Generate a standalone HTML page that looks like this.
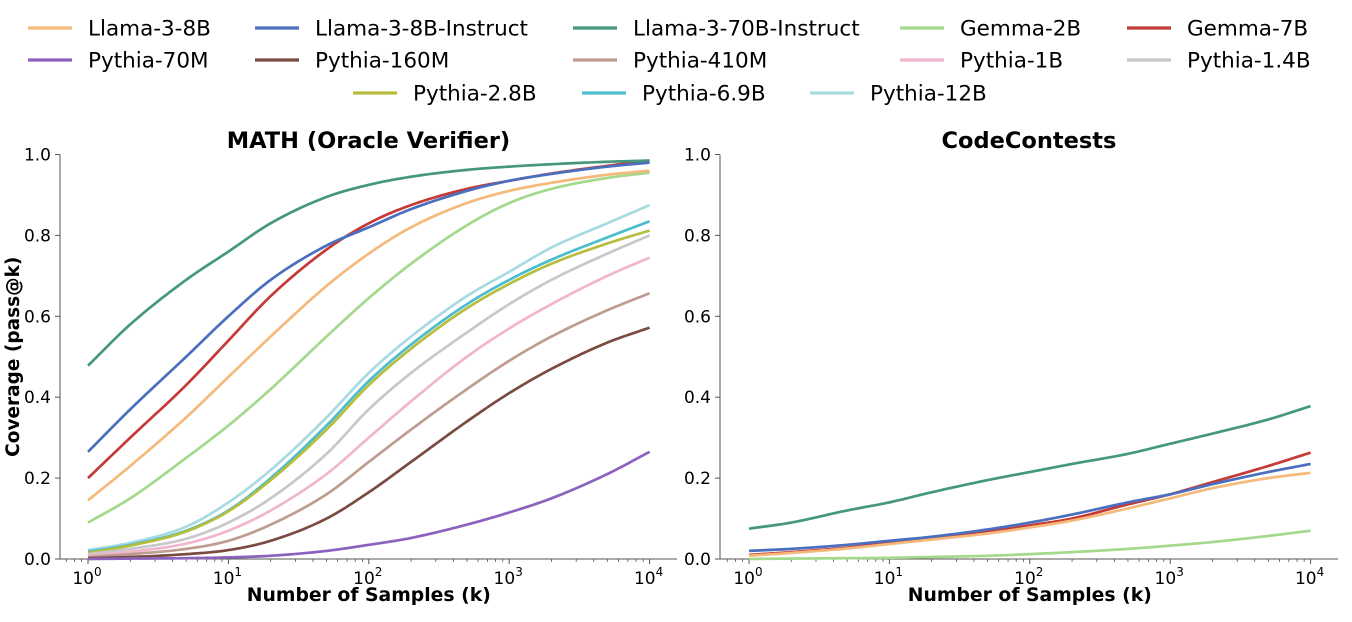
<!DOCTYPE html>
<html><head><meta charset="utf-8">
<style>
body{margin:0;background:#fff;}
svg{display:block;font-family:"DejaVu Sans","Liberation Sans",sans-serif;}
</style></head>
<body>
<svg id="chart" width="1352" height="622" viewBox="0 0 1352 622"></svg>
<script>
const ks=[1,2,5,10,20,50,100,200,500,1000,2000,5000,10000];
const seriesNames=["Llama-3-8B","Llama-3-8B-Instruct","Llama-3-70B-Instruct","Gemma-2B","Gemma-7B","Pythia-70M","Pythia-160M","Pythia-410M","Pythia-1B","Pythia-1.4B","Pythia-2.8B","Pythia-6.9B","Pythia-12B"];
const seriesColors=["#f5b97b","#4a6fbf","#45987a","#a3d98c","#c43a36","#8c62bf","#7a4b42","#bf9c90","#f1b5cf","#c8c8c8","#b8bd3e","#4bbdcc","#a8dae2"];
const mathLlama8=[0.145,0.23,0.35,0.45,0.55,0.675,0.755,0.82,0.88,0.91,0.93,0.95,0.96];
const mathLlama8I=[0.265,0.37,0.50,0.60,0.69,0.775,0.82,0.865,0.91,0.935,0.952,0.97,0.98];
const mathLlama70I=[0.478,0.58,0.69,0.76,0.83,0.895,0.925,0.945,0.962,0.97,0.976,0.982,0.985];
const mathGemma2=[0.09,0.15,0.25,0.33,0.42,0.55,0.645,0.73,0.825,0.88,0.915,0.942,0.955];
const mathGemma7=[0.20,0.30,0.43,0.54,0.65,0.765,0.83,0.875,0.915,0.935,0.953,0.972,0.985];
const mathP70M=[0,0.001,0.002,0.004,0.008,0.02,0.035,0.052,0.085,0.115,0.15,0.21,0.265];
const mathP160M=[0.002,0.005,0.012,0.022,0.045,0.1,0.165,0.24,0.34,0.41,0.47,0.535,0.572];
const mathP410M=[0.005,0.012,0.025,0.045,0.085,0.16,0.24,0.32,0.42,0.49,0.55,0.615,0.657];
const mathP1B=[0.008,0.018,0.038,0.07,0.12,0.21,0.3,0.39,0.5,0.57,0.63,0.70,0.745];
const mathP14B=[0.012,0.025,0.05,0.09,0.15,0.26,0.37,0.46,0.56,0.63,0.69,0.755,0.80];
const mathP28B=[0.015,0.033,0.068,0.118,0.195,0.32,0.43,0.52,0.62,0.68,0.73,0.78,0.812];
const mathP69B=[0.018,0.035,0.07,0.12,0.2,0.33,0.44,0.53,0.63,0.69,0.74,0.795,0.835];
const mathP12B=[0.022,0.04,0.08,0.14,0.22,0.35,0.46,0.55,0.65,0.71,0.77,0.83,0.875];
const codeLlama8=[0.008,0.015,0.026,0.037,0.048,0.063,0.078,0.095,0.125,0.15,0.175,0.2,0.213];
const codeLlama8I=[0.02,0.025,0.035,0.045,0.055,0.073,0.09,0.11,0.14,0.16,0.185,0.215,0.235];
const codeLlama70I=[0.075,0.09,0.12,0.14,0.165,0.195,0.215,0.235,0.26,0.285,0.31,0.345,0.378];
const codeGemma2=[0,0.001,0.002,0.003,0.005,0.008,0.012,0.017,0.025,0.033,0.042,0.057,0.07];
const codeGemma7=[0.01,0.017,0.028,0.04,0.05,0.067,0.083,0.1,0.135,0.16,0.19,0.23,0.263];
const yTicks=[0,0.2,0.4,0.6,0.8,1.0];
const yTickLabels=["0.0","0.2","0.4","0.6","0.8","1.0"];
const xTickExps=[0,1,2,3,4];

const mathSeries=[mathLlama8,mathLlama8I,mathLlama70I,mathGemma2,mathGemma7,mathP70M,mathP160M,mathP410M,mathP1B,mathP14B,mathP28B,mathP69B,mathP12B];
const codeSeries=[codeLlama8,codeLlama8I,codeLlama70I,codeGemma2,codeGemma7];

const NS="http://www.w3.org/2000/svg";
const svg=document.getElementById('chart');
function mk(tag,attrs,parent,text){const e=document.createElementNS(NS,tag);for(const k in attrs)e.setAttribute(k,attrs[k]);if(text!==undefined)e.textContent=text;(parent||svg).appendChild(e);return e;}

// monotone cubic (Fritsch-Carlson)
function monotone(xs,ys){
  const n=xs.length,d=[],m=new Array(n);
  for(let i=0;i<n-1;i++)d.push((ys[i+1]-ys[i])/(xs[i+1]-xs[i]));
  m[0]=d[0];m[n-1]=d[n-2];
  for(let i=1;i<n-1;i++){m[i]=(d[i-1]*d[i]<=0)?0:(d[i-1]+d[i])/2;}
  for(let i=0;i<n-1;i++){
    if(d[i]===0){m[i]=0;m[i+1]=0;continue;}
    const a=m[i]/d[i],b=m[i+1]/d[i],s=a*a+b*b;
    if(s>9){const t=3/Math.sqrt(s);m[i]=t*a*d[i];m[i+1]=t*b*d[i];}
  }
  return x=>{
    let i=0;while(i<n-2&&x>xs[i+1])i++;
    const h=xs[i+1]-xs[i],t=(x-xs[i])/h;
    const h00=2*t*t*t-3*t*t+1,h10=t*t*t-2*t*t+t,h01=-2*t*t*t+3*t*t,h11=t*t*t-t*t;
    return h00*ys[i]+h10*h*m[i]+h01*ys[i+1]+h11*h*m[i+1];
  };
}

// legend
const legPos=[[28,28],[255,28],[573,28],[900,28],[1127,28],[28,60],[255,60],[573,60],[900,60],[1127,60],[353,93],[582,93],[810,93]];
seriesNames.forEach((n,i)=>{
  const g=mk('g',{});
  
  
  const [x,y]=legPos[i];
  mk('line',{x1:x,x2:x+44,y1:y,y2:y,stroke:seriesColors[i],'stroke-width':3.2},g);
  mk('text',{x:x+60,y:y+7.5,'font-size':21.5,fill:'#000'},g,n);
});

function panel(ox,x0,xend,title,series,name,showY){
  const g=mk('g',{});
  
  
  const top=154.5,bot=559,dec=140.4;
  const xs=k=>x0+Math.log10(k)*dec;
  const ys=v=>bot-(bot-top)*v;
  mk('line',{x1:ox,x2:ox,y1:top,y2:bot,stroke:'#555','stroke-width':1},g);
  mk('line',{x1:ox,x2:xend,y1:bot,y2:bot,stroke:'#555','stroke-width':1},g);
  yTicks.forEach((t,i)=>{
    mk('line',{x1:ox-5,x2:ox,y1:ys(t),y2:ys(t),stroke:'#555'},g);
    mk('text',{x:ox-9,y:ys(t)+6,'text-anchor':'end','font-size':17},g,yTickLabels[i]);
  });
  for(let e=-1;e<=4;e++){for(let m=2;m<=9;m++){const k=m*Math.pow(10,e);const x=xs(k);if(x>ox&&x<xend)mk('line',{x1:x,x2:x,y1:bot,y2:bot+3,stroke:'#555','stroke-width':0.8},g);}}
  xTickExps.forEach(e=>{
    const x=xs(Math.pow(10,e));
    mk('line',{x1:x,x2:x,y1:bot,y2:bot+5,stroke:'#555'},g);
    const t=mk('text',{x:x-1,y:bot+25,'text-anchor':'middle','font-size':17},g,'10');
    mk('tspan',{dy:-8,'font-size':12},t,String(e));
  });
  mk('text',{x:(ox+xend)/2,y:148,'text-anchor':'middle','font-size':22.5,'font-weight':'bold'},g,title);
  mk('text',{x:x0+2*dec,y:601,'text-anchor':'middle','font-size':18.8,'font-weight':'bold'},g,'Number of Samples (k)');
  if(showY){mk('text',{x:0,y:0,transform:`translate(19,${(top+bot)/2}) rotate(-90)`,'text-anchor':'middle','font-size':18.5,'font-weight':'bold'},g,'Coverage (pass@k)');}
  const lk=ks.map(k=>Math.log10(k));
  const order=series.map((_,i)=>i).reverse();
  order.forEach(i=>{
    const f=monotone(lk,series[i]);
    let d='';
    for(let s=0;s<=200;s++){const l=4*s/200;const px=x0+l*dec,py=ys(f(l));d+=(s?'L':'M')+px.toFixed(2)+','+py.toFixed(2);}
    const p=mk('path',{d:d,fill:'none',stroke:seriesColors[i],'stroke-width':2.7,'stroke-linejoin':'round'},g);
    
    
  });
}
panel(60,88,677,'MATH (Oracle Verifier)',mathSeries,'math-panel',true);
panel(720,749,1338,'CodeContests',codeSeries,'codecontests-panel',false);
</script>
</body></html>
